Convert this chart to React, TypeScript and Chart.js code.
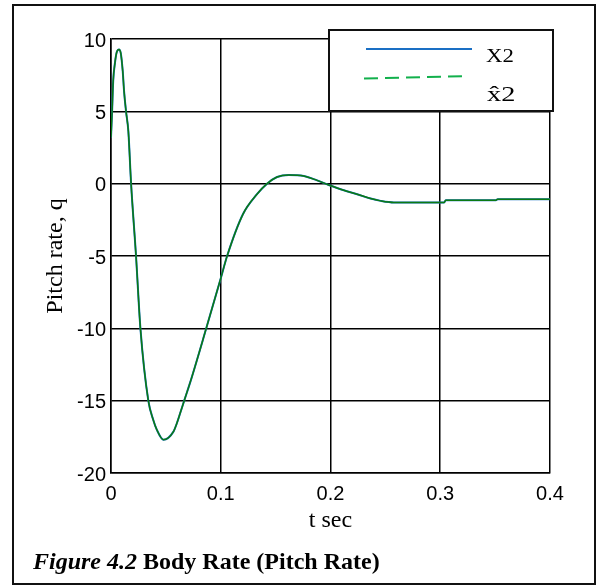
import React, { useEffect, useRef } from "react";
import { Chart, registerables } from "chart.js";

Chart.register(...registerables);

// ---- data ----
const timeSec = [
  0, 0.001, 0.002, 0.0037, 0.0052, 0.0073, 0.0089, 0.0107, 0.0119, 0.0137,
  0.0158, 0.0183, 0.0228, 0.0268, 0.034, 0.0386, 0.0417, 0.0478, 0.0569, 0.06,
  0.063, 0.0667, 0.0728, 0.0868, 0.1003, 0.1058, 0.1203, 0.133, 0.1422,
  0.1513, 0.162, 0.1756, 0.1878, 0.1984, 0.2121, 0.2243, 0.2365, 0.2457, 0.2578,
  0.3035, 0.305, 0.3507, 0.3523, 0.4,
];
const pitchRateX2 = [
  3.2, 5.0, 7.1, 8.4, 9.08, 9.28, 9.02, 7.76, 6.4, 5.0,
  3.63, 0, -5.0, -10.0, -15.0, -16.35, -17.0, -17.7, -17.14, -16.56,
  -15.87, -15.0, -13.58, -10.0, -6.47, -5.0, -2.1, -0.73, 0.0,
  0.46, 0.6, 0.53, 0.23, -0.09, -0.46, -0.73, -1.03, -1.19, -1.3,
  -1.3, -1.14, -1.14, -1.07, -1.07,
];
const pitchRateX2Hat = [
  3.2, 5.0, 7.1, 8.4, 9.08, 9.28, 9.02, 7.76, 6.4, 5.0,
  3.63, 0, -5.0, -10.0, -15.0, -16.35, -17.0, -17.7, -17.14, -16.56,
  -15.87, -15.0, -13.58, -10.0, -6.47, -5.0, -2.1, -0.73, 0.0,
  0.46, 0.6, 0.53, 0.23, -0.09, -0.46, -0.73, -1.03, -1.19, -1.3,
  -1.3, -1.14, -1.14, -1.07, -1.07,
];
const xTickValues = [0, 0.1, 0.2, 0.3, 0.4];
const xTickLabels = ["0", "0.1", "0.2", "0.3", "0.4"];
const yTickValues = [-20, -15, -10, -5, 0, 5, 10];
const seriesLabels = ["X2", "x\u03022"];
const xAxisTitle = "t sec";
const yAxisTitle = "Pitch rate, q";
const captionFigure = "Figure 4.2";
const captionText = " Body Rate (Pitch Rate)";

const BLUE = "#1a6fc4";
const GREEN_LINE = "#0b7a12";
const GREEN_LEGEND = "#12b04c";

const boxLegend = {
  id: "boxLegend",
  afterDraw(chart: any) {
    const ctx = chart.ctx as CanvasRenderingContext2D;
    const { top, right } = chart.chartArea;
    const x0 = right - 221;
    const x1 = right + 3;
    const y0 = top - 9;
    const y1 = top + 72;
    ctx.save();
    ctx.fillStyle = "#fff";
    ctx.fillRect(x0, y0, x1 - x0, y1 - y0);
    ctx.strokeStyle = "#111";
    ctx.lineWidth = 2;
    ctx.strokeRect(x0, y0, x1 - x0, y1 - y0);

    // blue solid sample
    ctx.strokeStyle = BLUE;
    ctx.lineWidth = 2;
    ctx.beginPath();
    ctx.moveTo(x0 + 37, top + 10);
    ctx.lineTo(x0 + 143, top + 10);
    ctx.stroke();
    // green dashed sample
    ctx.strokeStyle = GREEN_LEGEND;
    ctx.setLineDash([14, 7]);
    ctx.beginPath();
    ctx.moveTo(x0 + 35, top + 39.5);
    ctx.lineTo(x0 + 139, top + 37);
    ctx.stroke();
    ctx.setLineDash([]);

    ctx.fillStyle = "#000";
    ctx.textBaseline = "alphabetic";
    ctx.textAlign = "left";
    ctx.save();
    ctx.translate(x0 + 157, top + 23);
    ctx.scale(1.2, 1);
    ctx.font = '19px "Liberation Serif", "Times New Roman", serif';
    ctx.fillText(seriesLabels[0], 0, 0);
    ctx.restore();
    ctx.save();
    ctx.translate(x0 + 158, top + 62);
    ctx.scale(1.35, 1);
    ctx.font = '21px "Liberation Serif", "Times New Roman", serif';
    ctx.fillText(seriesLabels[1], 0, 0);
    ctx.restore();
    ctx.restore();
  },
};

export default function App() {
  const canvasRef = useRef<HTMLCanvasElement | null>(null);

  useEffect(() => {
    const canvas = canvasRef.current;
    if (!canvas) return;
    const toPts = (ys: number[]) => timeSec.map((t, i) => ({ x: t, y: ys[i] }));
    const chart = new Chart(canvas, {
      type: "line",
      data: {
        datasets: [
          {
            label: seriesLabels[0],
            data: toPts(pitchRateX2),
            borderColor: BLUE,
            borderWidth: 2,
            pointRadius: 0,
            cubicInterpolationMode: "monotone",
            order: 2,
          },
          {
            label: seriesLabels[1],
            data: toPts(pitchRateX2Hat),
            borderColor: GREEN_LINE,
            borderWidth: 1.5,
            pointRadius: 0,
            cubicInterpolationMode: "monotone",
            order: 1,
          },
        ],
      },
      options: {
        responsive: false,
        animation: false,
        devicePixelRatio: 1,
        layout: { padding: { left: 40, right: 48, top: 39, bottom: 52 } },
        plugins: { legend: { display: false }, tooltip: { enabled: false } },
        scales: {
          x: {
            type: "linear",
            min: 0,
            max: 0.4,
            afterBuildTicks: (s: any) => {
              s.ticks = xTickValues.map((v) => ({ value: v }));
            },
            afterFit: (s: any) => {
              s.height = 62;
            },
            ticks: {
              callback: (v: any) => {
                const i = xTickValues.findIndex((t) => Math.abs(t - Number(v)) < 1e-9);
                return i >= 0 ? xTickLabels[i] : "";
              },
              padding: 9,
              maxRotation: 0,
              autoSkip: false,
              color: "#000",
              font: { family: '"Liberation Sans", Arial, sans-serif', size: 20 },
            },
            grid: { color: "#000", lineWidth: 1.5, drawTicks: false },
            border: { color: "#000", width: 1.5 },
            title: {
              display: true,
              text: xAxisTitle,
              color: "#000",
              font: { family: '"Liberation Serif", "Times New Roman", serif', size: 24 },
              padding: { top: 0, bottom: 0 },
            },
          },
          y: {
            type: "linear",
            min: -20,
            max: 10,
            afterBuildTicks: (s: any) => {
              s.ticks = yTickValues.map((v) => ({ value: v }));
            },
            afterFit: (s: any) => {
              s.width = 71;
            },
            ticks: {
              padding: 5,
              labelOffset: 2,
              color: "#000",
              font: { family: '"Liberation Sans", Arial, sans-serif', size: 20 },
            },
            grid: { color: "#000", lineWidth: 1.5, drawTicks: false },
            border: { color: "#000", width: 1.5 },
            title: {
              display: true,
              text: yAxisTitle,
              color: "#000",
              font: { family: '"Liberation Serif", "Times New Roman", serif', size: 24 },
              padding: { top: 1, bottom: 0 },
            },
          },
        },
      },
      plugins: [boxLegend],
    });
    return () => chart.destroy();
  }, []);

  return (
    <div style={{ position: "absolute", left: 0, top: 0, width: 598, height: 587, background: "#fff" }}>
      <canvas
        ref={canvasRef}
        width={598}
        height={587}
        style={{ position: "absolute", left: 0, top: 0, width: 598, height: 587 }}
      />
      <div
        style={{
          position: "absolute",
          left: 12,
          top: 4,
          width: 584,
          height: 581,
          boxSizing: "border-box",
          border: "2px solid #111",
          pointerEvents: "none",
        }}
      />
      <div
        style={{
          position: "absolute",
          left: 33,
          top: 549,
          font: 'bold 24px "Liberation Serif", "Times New Roman", serif',
          lineHeight: "24px",
          whiteSpace: "nowrap",
          color: "#000",
        }}
      >
        <i>{captionFigure}</i>
        {captionText}
      </div>
    </div>
  );
}
